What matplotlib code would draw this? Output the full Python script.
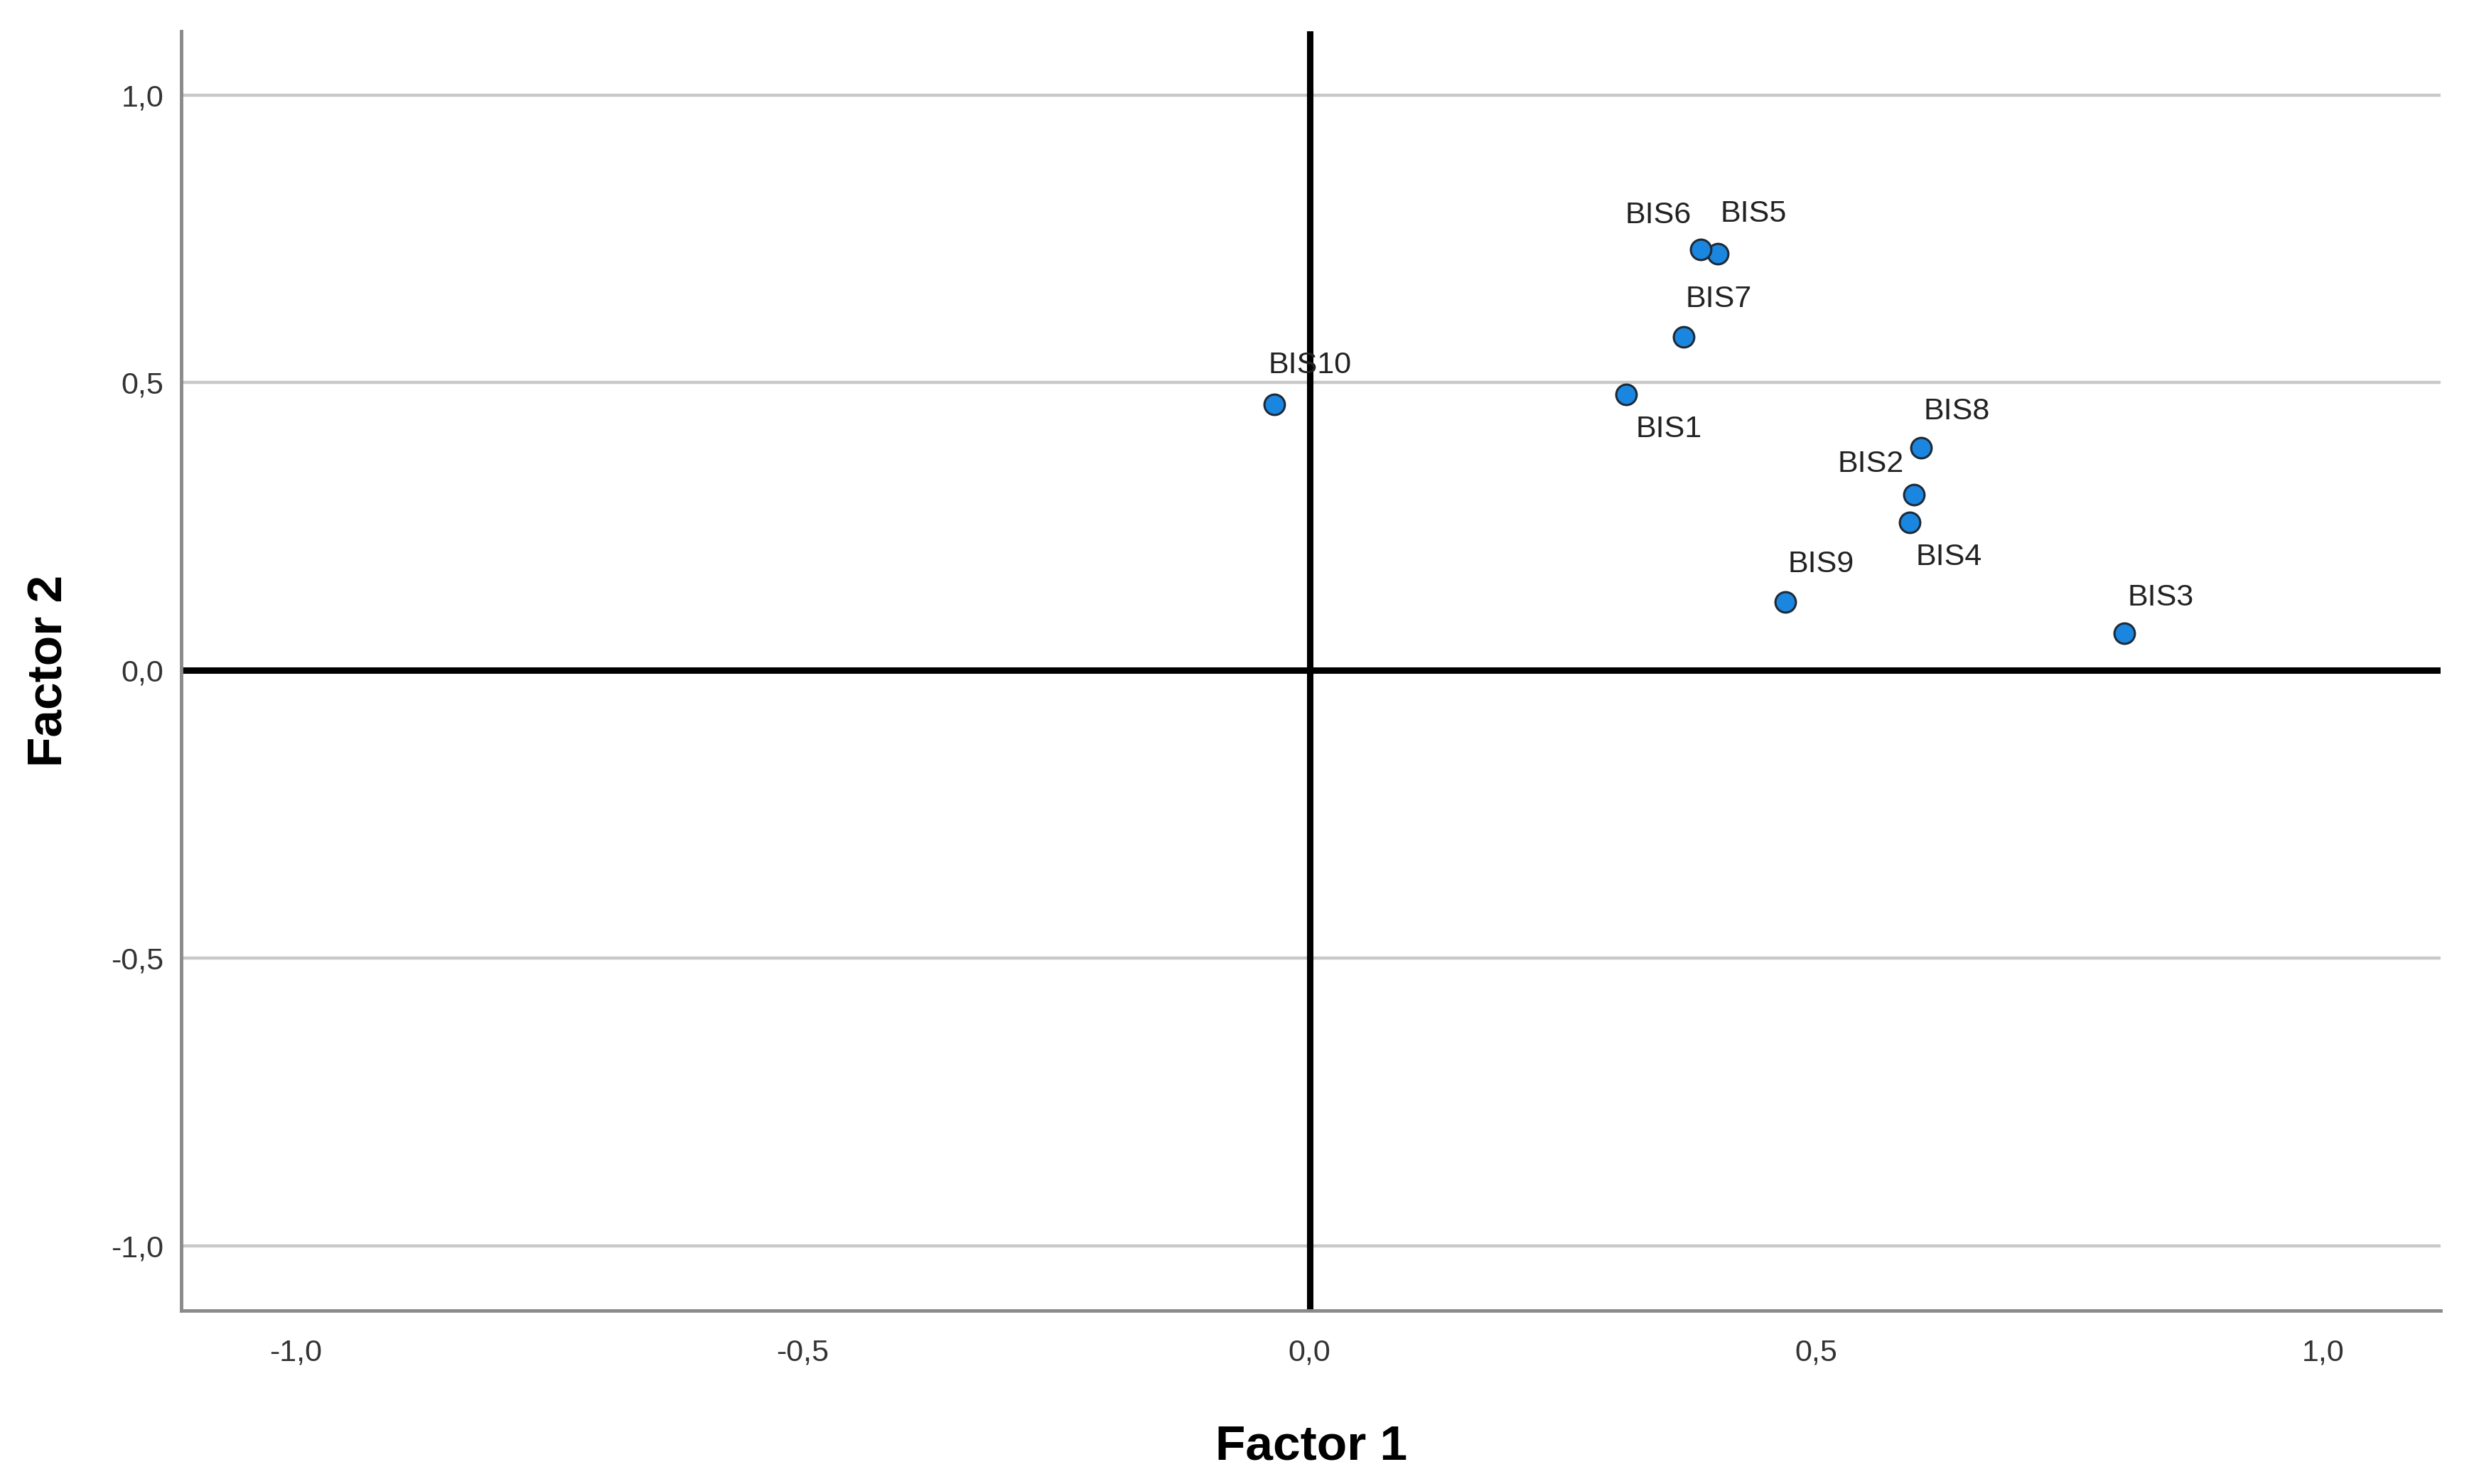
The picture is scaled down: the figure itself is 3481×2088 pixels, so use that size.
import matplotlib.pyplot as plt

# factor loadings
items = ['BIS1', 'BIS2', 'BIS3', 'BIS4', 'BIS5', 'BIS6', 'BIS7', 'BIS8', 'BIS9', 'BIS10']
factor1 = [0.312, 0.596, 0.804, 0.592, 0.403, 0.386, 0.369, 0.603, 0.469, -0.035]
factor2 = [0.479, 0.305, 0.065, 0.257, 0.724, 0.732, 0.580, 0.387, 0.119, 0.462]

ticks = [-1.0, -0.5, 0.0, 0.5, 1.0]
tick_labels = ['-1,0', '-0,5', '0,0', '0,5', '1,0']

# label placement (offset in points, horizontal alignment)
label_pos = {
    'BIS1': (10, -35, 'left'),
    'BIS2': (-10, 31, 'right'),
    'BIS3': (3, 36, 'left'),
    'BIS4': (6, -35, 'left'),
    'BIS5': (2, 40, 'left'),
    'BIS6': (-10, 34, 'right'),
    'BIS7': (2, 38, 'left'),
    'BIS8': (3, 37, 'left'),
    'BIS9': (3, 38, 'left'),
    'BIS10': (-6, 40, 'left'),
}

plt.rcParams['font.family'] = ['Liberation Sans', 'DejaVu Sans']

fig = plt.figure(figsize=(34.81, 20.88), dpi=100)
ax = fig.add_axes([0.0733, 0.117, 0.9133, 0.8617])

for y in [-1.0, -0.5, 0.5, 1.0]:
    ax.axhline(y, color='#c8c8c8', lw=3.2, zorder=1)
ax.axhline(0, color='black', lw=6.5, zorder=2)
ax.axvline(0, color='black', lw=6.5, zorder=2)

ax.scatter(factor1, factor2, s=430, color='#1a86e0', edgecolor='#1e2a36',
           linewidth=2.2, zorder=3)

for name, x, y in zip(items, factor1, factor2):
    dx, dy, ha = label_pos[name]
    ax.annotate(name, (x, y), xytext=(dx, dy), textcoords='offset points',
                ha=ha, va='center', fontsize=31, color='#222222', zorder=4)

ax.set_xlim(-1.113, 1.116)
ax.set_ylim(-1.112, 1.11)
ax.set_xticks(ticks)
ax.set_xticklabels(tick_labels)
ax.set_yticks(ticks)
ax.set_yticklabels(tick_labels)
ax.tick_params(length=0, labelsize=31, labelcolor='#333333')
ax.tick_params(axis='x', pad=29)
ax.tick_params(axis='y', pad=18)

for s in ['top', 'right']:
    ax.spines[s].set_visible(False)
for s in ['left', 'bottom']:
    ax.spines[s].set_color('#8a8a8a')
    ax.spines[s].set_linewidth(3.5)

ax.set_xlabel('Factor 1', fontsize=50, fontweight='bold', labelpad=57)
ax.set_ylabel('Factor 2', fontsize=50, fontweight='bold', labelpad=39)

fig.savefig('out.png', dpi=100, facecolor='white')
